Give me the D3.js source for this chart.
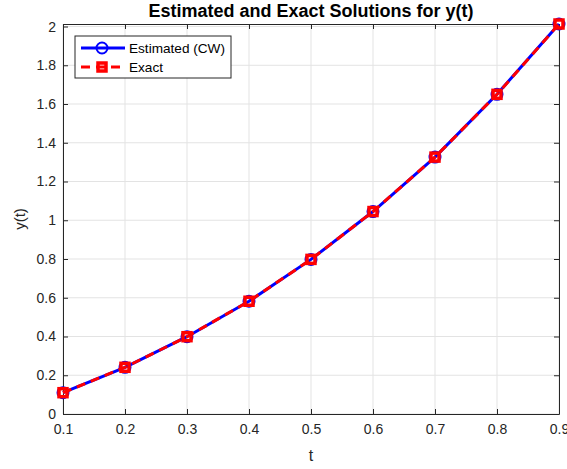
<!DOCTYPE html>
<html>
<head>
<meta charset="utf-8">
<script src="https://cdn.jsdelivr.net/npm/d3@7"></script>
<style>
  body { margin: 0; background: #fff; }
  svg { display: block; font-family: "Liberation Sans", Arial, sans-serif; }
</style>
</head>
<body>
<div id="chart-area"></div>
<script>
// data
let tValues = [0.1, 0.2, 0.3, 0.4, 0.5, 0.6, 0.7, 0.8, 0.9];
let estimated = [0.110, 0.241, 0.399, 0.582, 0.798, 1.045, 1.326, 1.650, 2.013];
let exact = [0.110, 0.241, 0.399, 0.582, 0.798, 1.045, 1.326, 1.650, 2.013];
let xTicks = [0.1, 0.2, 0.3, 0.4, 0.5, 0.6, 0.7, 0.8, 0.9];
let yTicks = [0, 0.2, 0.4, 0.6, 0.8, 1, 1.2, 1.4, 1.6, 1.8, 2];

let margin = { top: 24, right: 8, bottom: 55, left: 63 };
let width = 567 - margin.left - margin.right,
    height = 469 - margin.top - margin.bottom;

let svg = d3.select("#chart-area").append("svg")
    .attr("width", 567)
    .attr("height", 469)
    .append("g")
    .attr("transform", "translate(" + margin.left + "," + margin.top + ")");

let x = d3.scaleLinear().domain([0.1, 0.9]).range([0, width]);
let y = d3.scaleLinear().domain([0, 2.013]).range([height, 0]);

let axisColor = "#262626";

// grid
svg.append("g").selectAll("line.gx")
    .data(xTicks).enter().append("line")
    .attr("x1", d => x(d)).attr("x2", d => x(d))
    .attr("y1", 0).attr("y2", height)
    .attr("stroke", "#e3e3e3").attr("stroke-width", 1);
svg.append("g").selectAll("line.gy")
    .data(yTicks).enter().append("line")
    .attr("x1", 0).attr("x2", width)
    .attr("y1", d => y(d)).attr("y2", d => y(d))
    .attr("stroke", "#e3e3e3").attr("stroke-width", 1);

// axes
let xAxis = d3.axisBottom(x).tickValues(xTicks).tickSizeInner(-5).tickSizeOuter(0)
    .tickPadding(10).tickFormat(d3.format(".1f"));
let yAxis = d3.axisLeft(y).tickValues(yTicks).tickSizeInner(-5).tickSizeOuter(0)
    .tickPadding(7).tickFormat(d => d3.format("~g")(d));

let xg = svg.append("g").attr("transform", "translate(0," + height + ")").call(xAxis);
let yg = svg.append("g").call(yAxis);
let xTop = svg.append("g").call(d3.axisTop(x).tickValues(xTicks).tickSizeInner(-5).tickSizeOuter(0).tickFormat(""));
let yRight = svg.append("g").attr("transform", "translate(" + width + ",0)")
    .call(d3.axisRight(y).tickValues(yTicks).tickSizeInner(-5).tickSizeOuter(0).tickFormat(""));

[xg, yg, xTop, yRight].forEach(g => {
    g.select(".domain").attr("stroke", axisColor).attr("stroke-width", 1);
    g.selectAll(".tick line").attr("stroke", axisColor);
    g.selectAll(".tick text").attr("fill", axisColor).style("font-size", "14px")
        .style("font-family", "'Liberation Sans', Arial, sans-serif");
});

// lines
let line = (vals) => d3.line()
    .x((d, i) => x(tValues[i]))
    .y(d => y(d))(vals);

svg.append("path")
    .attr("d", line(estimated))
    .attr("fill", "none")
    .attr("stroke", "#0000ff")
    .attr("stroke-width", 3);

svg.selectAll(".est-marker")
    .data(estimated).enter().append("circle")
    .attr("class", "est-marker")
    .attr("cx", (d, i) => x(tValues[i]))
    .attr("cy", d => y(d))
    .attr("r", 5.5)
    .attr("fill", "none")
    .attr("stroke", "#0000ff")
    .attr("stroke-width", 2);

svg.append("path")
    .attr("d", line(exact))
    .attr("fill", "none")
    .attr("stroke", "#ff0000")
    .attr("stroke-width", 3)
    .attr("stroke-dasharray", "9,6");

svg.selectAll(".ex-marker")
    .data(exact).enter().append("rect")
    .attr("class", "ex-marker")
    .attr("x", (d, i) => x(tValues[i]) - 4)
    .attr("y", d => y(d) - 4)
    .attr("width", 8)
    .attr("height", 8)
    .attr("fill", "none")
    .attr("stroke", "#ff0000")
    .attr("stroke-width", 3.5);

// title and labels
svg.append("text")
    .attr("x", width / 2).attr("y", -7)
    .attr("text-anchor", "middle")
    .style("font-size", "18px").style("font-weight", "bold")
    .attr("fill", "#000")
    .text("Estimated and Exact Solutions for y(t)");

svg.append("text")
    .attr("x", width / 2).attr("y", height + 47)
    .attr("text-anchor", "middle")
    .style("font-size", "16px")
    .attr("fill", axisColor)
    .text("t");

svg.append("text")
    .attr("transform", "translate(-38," + (height / 2) + ") rotate(-90)")
    .attr("text-anchor", "middle")
    .style("font-size", "15px")
    .attr("fill", axisColor)
    .text("y(t)");

// legend
let legend = svg.append("g").attr("transform", "translate(12,12)");
legend.append("rect")
    .attr("width", 156).attr("height", 42)
    .attr("fill", "#fff").attr("stroke", axisColor).attr("stroke-width", 1);

let ly1 = 12, ly2 = 31;
legend.append("line").attr("x1", 6).attr("x2", 50).attr("y1", ly1).attr("y2", ly1)
    .attr("stroke", "#0000ff").attr("stroke-width", 3);
legend.append("circle").attr("cx", 27).attr("cy", ly1).attr("r", 5.5)
    .attr("fill", "none").attr("stroke", "#0000ff").attr("stroke-width", 2);
legend.append("line").attr("x1", 6).attr("x2", 50).attr("y1", ly2).attr("y2", ly2)
    .attr("stroke", "#ff0000").attr("stroke-width", 3).attr("stroke-dasharray", "9,6");
legend.append("rect").attr("x", 23).attr("y", ly2 - 4).attr("width", 8).attr("height", 8)
    .attr("fill", "none").attr("stroke", "#ff0000").attr("stroke-width", 3.5);

legend.append("text").attr("x", 54).attr("y", ly1 + 5)
    .style("font-size", "13.6px").attr("fill", "#000").text("Estimated (CW)");
legend.append("text").attr("x", 54).attr("y", ly2 + 5)
    .style("font-size", "13.6px").attr("fill", "#000").text("Exact");
</script>
</body>
</html>
